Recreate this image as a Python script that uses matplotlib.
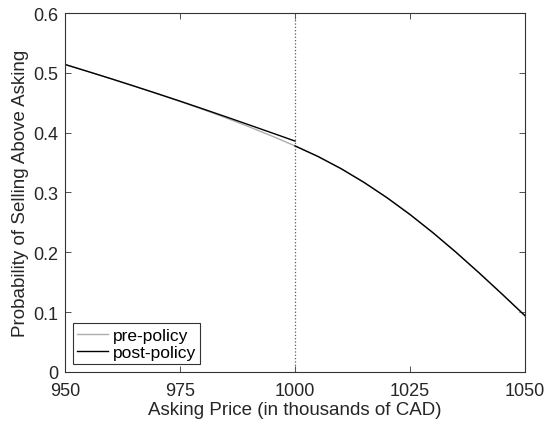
import numpy as np
import matplotlib.pyplot as plt

plt.rcParams['font.family'] = ['Liberation Sans', 'DejaVu Sans']

# asking price (thousands of CAD)
price = np.array([950, 955, 960, 965, 970, 975, 980, 985, 990, 995, 1000,
                  1005, 1010, 1015, 1020, 1025, 1030, 1035, 1040, 1045, 1050])
pre_policy = np.array([0.5140, 0.5022, 0.4902, 0.4779, 0.4653, 0.4523, 0.4388, 0.4247, 0.4099, 0.3943, 0.3779,
                       0.3602, 0.3399, 0.3169, 0.2913, 0.2632, 0.2327, 0.2001, 0.1658, 0.1303, 0.0940])
# post-policy below the 1000 threshold (jumps back onto the pre-policy curve above it)
post_price_below = np.array([950, 955, 960, 965, 970, 975, 980, 985, 990, 995, 1000])
post_policy_below = np.array([0.5140, 0.5022, 0.4902, 0.4779, 0.4654, 0.4527, 0.4397, 0.4265, 0.4131, 0.3996, 0.3860])
threshold = 1000

fig = plt.figure(figsize=(5.47, 4.31), dpi=100)
ax = fig.add_axes([0.1188, 0.1346, 0.841, 0.9675 - 0.1346])

ax.axvline(threshold, color='0.35', linestyle=':', linewidth=0.9)
ax.plot(price, pre_policy, color='0.68', linewidth=1.0, label='pre-policy')
ax.plot(post_price_below, post_policy_below, color='black', linewidth=1.0, label='post-policy')
above = price >= threshold
ax.plot(price[above], pre_policy[above], color='black', linewidth=1.0)

ax.set_xlim(950, 1050)
ax.set_ylim(0, 0.6)
ax.set_xticks([950, 975, 1000, 1025, 1050])
ax.set_yticks([0, 0.1, 0.2, 0.3, 0.4, 0.5, 0.6])
ax.set_yticklabels(['0', '0.1', '0.2', '0.3', '0.4', '0.5', '0.6'])
ax.tick_params(direction='in', top=True, right=True, labelsize=13, length=4, width=0.6,
               color='0.2', labelcolor='0.15')
ax.tick_params(axis='x', pad=7)
ax.tick_params(axis='y', pad=5)
for s in ax.spines.values():
    s.set_color('0.2')
    s.set_linewidth(0.8)

ax.set_xlabel('Asking Price (in thousands of CAD)', fontsize=13.5, color='0.15', labelpad=2)
ax.set_ylabel('Probability of Selling Above Asking', fontsize=13.5, color='0.15', labelpad=3)

leg = ax.legend(loc='lower left', fontsize=12.5, handlelength=1.75, fancybox=False,
                framealpha=1, borderpad=0.25, labelspacing=0.12, handletextpad=0.3,
                borderaxespad=0.45)
leg.get_frame().set_edgecolor('0.2')
leg.get_frame().set_linewidth(0.8)

fig.savefig('out.png', dpi=100)
